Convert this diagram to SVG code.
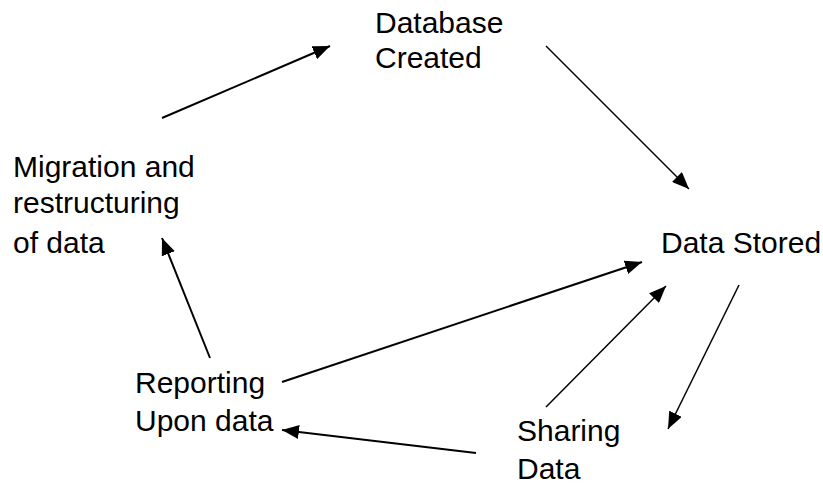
<svg xmlns="http://www.w3.org/2000/svg" width="823" height="485" viewBox="0 0 823 485">
  <style>
    .lbl { font-family: "Liberation Sans", Arial, sans-serif; font-size: 30px; fill: #000; }
    .c { stroke: #000; fill: none; marker-end: url(#ah); }
    .w2 { stroke-width: 2; }
    .w15 { stroke-width: 1.5; }
  </style>
  <defs>
    <marker id="ah" markerUnits="userSpaceOnUse" markerWidth="18" markerHeight="14" refX="17" refY="7" orient="auto" viewBox="0 0 18 14">
      <path d="M0,0 L17,7 L0,14 z" fill="#000"/>
    </marker>
  </defs>
  <rect width="823" height="485" fill="#fff"/>
  <g id="node-database-created">
    <text class="lbl" x="375" y="33">Database</text>
    <text class="lbl" x="375" y="68">Created</text>
  </g>
  <g id="node-data-stored">
    <text class="lbl" x="661" y="253">Data Stored</text>
  </g>
  <g id="node-sharing-data">
    <text class="lbl" x="517" y="441">Sharing</text>
    <text class="lbl" x="517" y="479">Data</text>
  </g>
  <g id="node-reporting">
    <text class="lbl" x="135" y="393">Reporting</text>
    <text class="lbl" x="135" y="431">Upon data</text>
  </g>
  <g id="node-migration">
    <text class="lbl" x="13" y="177">Migration and</text>
    <text class="lbl" x="13" y="213">restructuring</text>
    <text class="lbl" x="13" y="253">of data</text>
  </g>
  <g id="connectors">
    <line class="c w2" x1="162" y1="118" x2="330" y2="46"/>
    <line class="c w15" x1="546" y1="46" x2="689" y2="189"/>
    <line class="c w15" x1="739" y1="285" x2="668" y2="429"/>
    <line class="c w15" x1="546" y1="407" x2="666" y2="286"/>
    <line class="c w2" x1="282" y1="382" x2="642" y2="262"/>
    <line class="c w2" x1="476" y1="453" x2="282" y2="430"/>
    <line class="c w2" x1="210" y1="358" x2="162" y2="238"/>
  </g>
</svg>
